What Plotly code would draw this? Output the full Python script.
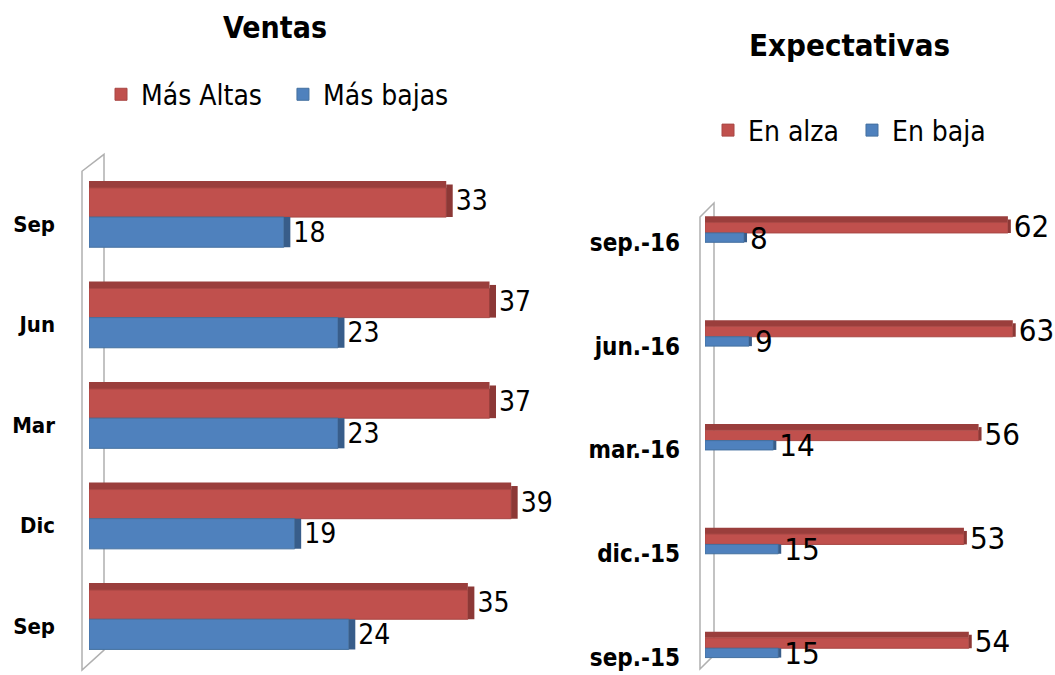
import plotly.graph_objects as go

W, H = 1055, 675

# ---- data ----
ventas_labels = ["Sep", "Jun", "Mar", "Dic", "Sep"]
ventas_altas = [33, 37, 37, 39, 35]
ventas_bajas = [18, 23, 23, 19, 24]

expect_labels = ["sep.-16", "jun.-16", "mar.-16", "dic.-15", "sep.-15"]
expect_alza = [62, 63, 56, 53, 54]
expect_baja = [8, 9, 14, 15, 15]

RED = "#C0504D"
BLUE = "#4F81BD"
RED_TOP = "#9A3E3C"
RED_CAP = "#8C3836"
BLUE_CAP = "#385D8A"
RED_D = "#A84744"
BLUE_D = "#44709F"
FONT = "DejaVu Sans Condensed, Liberation Sans Narrow, Arial Narrow, sans-serif"
NB = "\u00a0"


def px(x):
    return x / W


def py(y):
    return 1 - y / H


idx_v = list(range(len(ventas_labels)))
idx_e = list(range(len(expect_labels)))

fig = go.Figure()


def add_pair(y, hi, lo, hi_name, lo_name, xa, ya, leg, w_front, w_top, w_lo, cap, fsize, pad):
    # top face of the upper bar (3D look)
    fig.add_trace(go.Bar(
        y=y, x=hi, orientation="h", showlegend=False, hoverinfo="skip",
        marker=dict(color=RED_TOP, line=dict(width=0)),
        width=w_top, offset=-(w_front + w_top),
        xaxis=xa, yaxis=ya, legend=leg))
    fig.add_trace(go.Bar(
        y=y, x=hi, orientation="h", name=hi_name + pad,
        marker=dict(color=RED, line=dict(color=RED_D, width=1)),
        width=w_front, offset=-w_front,
        xaxis=xa, yaxis=ya, legend=leg))
    fig.add_trace(go.Bar(
        y=y, x=lo, orientation="h", name=lo_name,
        marker=dict(color=BLUE, line=dict(color=BLUE_D, width=1)),
        width=w_lo, offset=0,
        xaxis=xa, yaxis=ya, legend=leg))
    # end caps (3D look), carrying the value labels
    fig.add_trace(go.Bar(
        y=y, base=hi, x=[cap] * len(hi), orientation="h", showlegend=False,
        hoverinfo="skip", marker=dict(color=RED_CAP, line=dict(width=0)),
        width=w_front + w_top * 0.5, offset=-(w_front + w_top * 0.5),
        text=hi, textposition="outside",
        textfont=dict(size=fsize, color="black", family=FONT), constraintext="none",
        cliponaxis=False, xaxis=xa, yaxis=ya, legend=leg))
    fig.add_trace(go.Bar(
        y=y, base=lo, x=[cap] * len(lo), orientation="h", showlegend=False,
        hoverinfo="skip", marker=dict(color=BLUE_CAP, line=dict(width=0)),
        width=w_lo, offset=0,
        text=lo, textposition="outside",
        textfont=dict(size=fsize, color="black", family=FONT), constraintext="none",
        cliponaxis=False, xaxis=xa, yaxis=ya, legend=leg))


add_pair(idx_v, ventas_altas, ventas_bajas, "Más Altas", "Más bajas",
         "x", "y", "legend", 0.29, 0.07, 0.30, 0.6, 28, NB * 2)
add_pair(idx_e, expect_alza, expect_baja, "En alza", "En baja",
         "x2", "y2", "legend2", 0.10, 0.06, 0.09, 0.6, 31, NB)

axis_common = dict(showgrid=False, zeroline=False, showline=False, ticks="")

fig.update_layout(
    width=W, height=H,
    margin=dict(l=0, r=0, t=0, b=0),
    paper_bgcolor="white", plot_bgcolor="rgba(0,0,0,0)",
    barmode="overlay",
    font=dict(family=FONT, color="black"),
    xaxis=dict(domain=[px(89), px(522)], range=[0, 40], showticklabels=False,
               anchor="y", **axis_common),
    yaxis=dict(domain=[py(672.5), py(162.5)], range=[4.5, -0.55],
               tickvals=[i + 0.07 for i in idx_v], ticktext=ventas_labels, anchor="x",
               tickfont=dict(size=22, family=FONT, color="black", weight="bold"),
               ticklabelstandoff=33, **axis_common),
    xaxis2=dict(domain=[px(705), px(1047)], range=[0, 70], showticklabels=False,
                anchor="y2", **axis_common),
    yaxis2=dict(domain=[py(672), py(202.7)], range=[4.2, -0.3],
                tickvals=[i + 0.09 for i in idx_e], ticktext=expect_labels, anchor="x2",
                tickfont=dict(size=24, family=FONT, color="black", weight="bold"),
                ticklabelstandoff=24, **axis_common),
    legend=dict(orientation="h", x=px(101), y=py(95), xanchor="left", yanchor="middle",
                font=dict(size=28, family=FONT), bgcolor="rgba(0,0,0,0)",
                itemwidth=30, traceorder="normal"),
    legend2=dict(orientation="h", x=px(708), y=py(131), xanchor="left", yanchor="middle",
                 font=dict(size=28, family=FONT), bgcolor="rgba(0,0,0,0)",
                 itemwidth=30, traceorder="normal"),
    annotations=[
        dict(text="<b>Ventas</b>", x=px(275), y=py(28), xref="paper", yref="paper",
             xanchor="center", yanchor="middle",
             showarrow=False, font=dict(size=30, family=FONT, color="black")),
        dict(text="<b>Expectativas</b>", x=px(849), y=py(45), xref="paper", yref="paper",
             xanchor="center", yanchor="middle",
             showarrow=False, font=dict(size=31, family=FONT, color="black")),
    ],
    shapes=[
        dict(type="path", xref="paper", yref="paper", layer="below",
             path=f"M {px(82)},{py(172)} L {px(104)},{py(155)} L {px(104)},{py(653)} "
                  f"L {px(82)},{py(673)} Z",
             line=dict(color="#B0B0B0", width=1.5), fillcolor="rgba(0,0,0,0)"),
        dict(type="path", xref="paper", yref="paper", layer="below",
             path=f"M {px(700)},{py(218)} L {px(714)},{py(204)} L {px(714)},{py(658)} "
                  f"L {px(700)},{py(672)} Z",
             line=dict(color="#B0B0B0", width=1.5), fillcolor="rgba(0,0,0,0)"),
    ],
)

fig.write_html("out.html", config={"displayModeBar": False},
               post_script="document.body.style.margin='0';")
